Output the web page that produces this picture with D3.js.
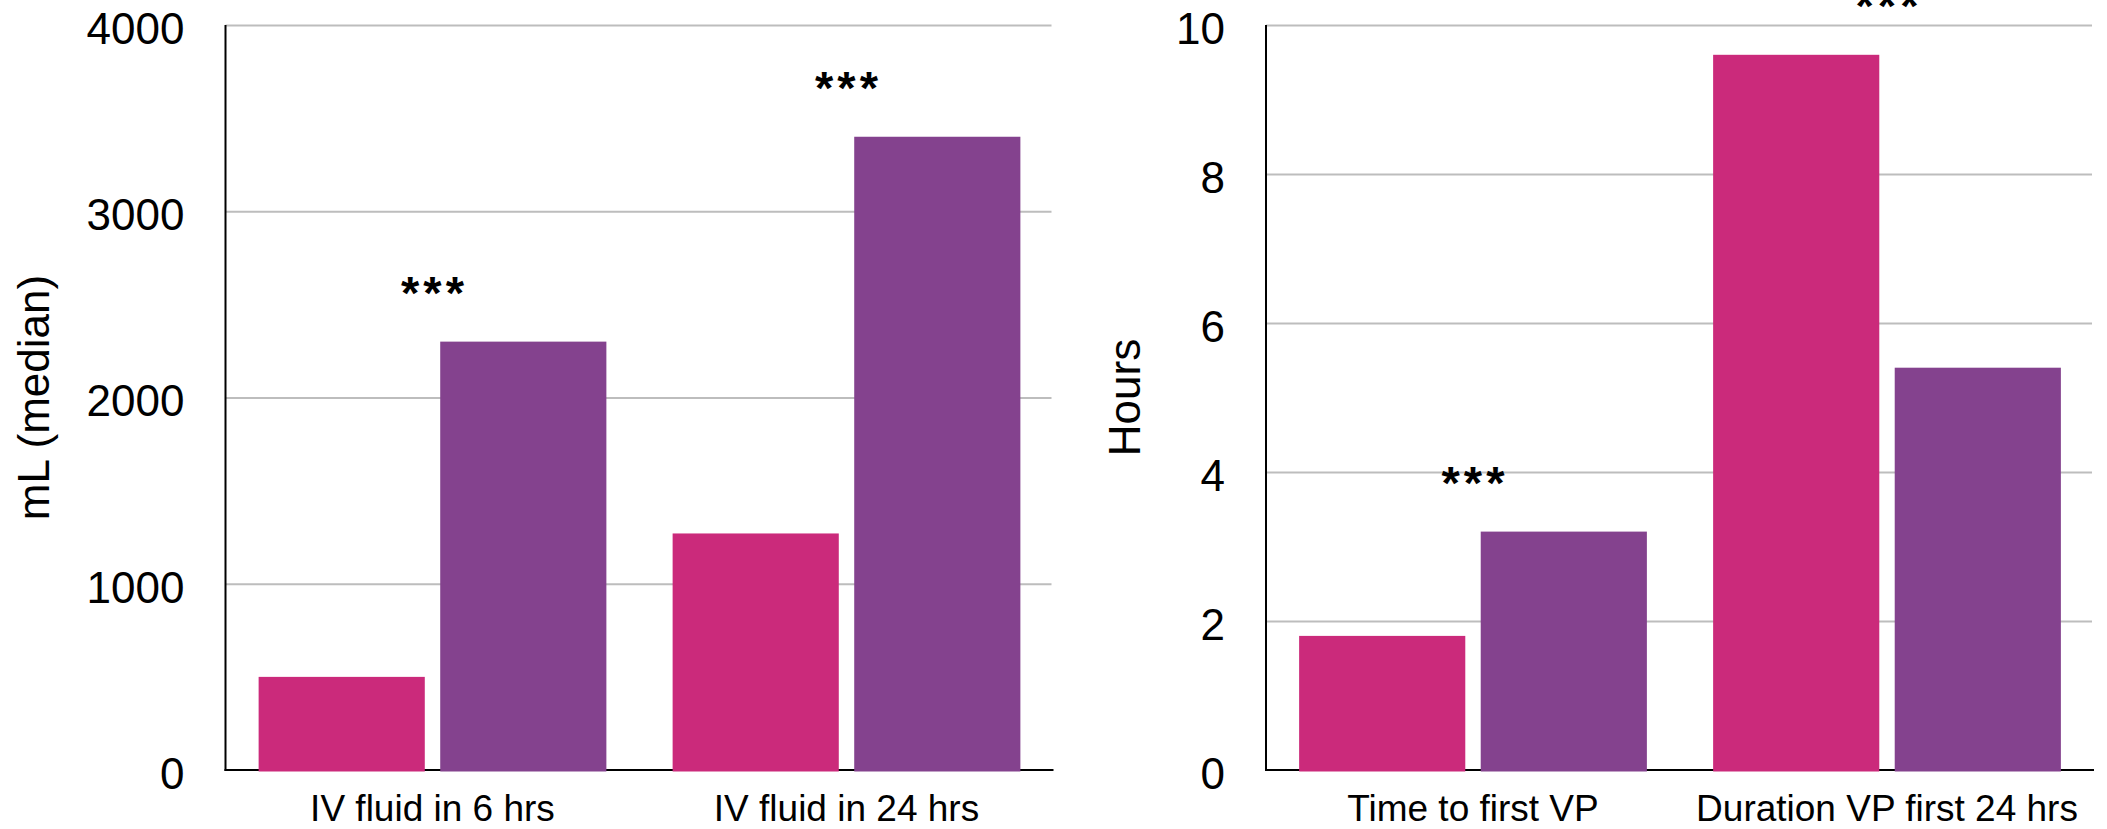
<!DOCTYPE html>
<html>
<head>
<meta charset="utf-8">
<script src="https://cdn.jsdelivr.net/npm/d3@7"></script>
<style>
  html, body { margin: 0; padding: 0; background: #ffffff; }
  svg { display: block; font-family: "Liberation Sans", Arial, Helvetica, sans-serif; }
</style>
</head>
<body>
<svg id="chart" width="2107" height="829"></svg>
<script>
// Left panel: IV fluid volume (mL, median)
const fluidCategories = ["IV fluid in 6 hrs", "IV fluid in 24 hrs"];
const fluidGroupA = [500, 1270];
const fluidGroupB = [2300, 3400];
const fluidTicks = [0, 1000, 2000, 3000, 4000];
const fluidMarks = ["***", "***"];

// Right panel: vasopressor timing (hours)
const vpCategories = ["Time to first VP", "Duration VP first 24 hrs"];
const vpGroupA = [1.8, 9.6];
const vpGroupB = [3.2, 5.4];
const vpTicks = [0, 2, 4, 6, 8, 10];
const vpMarks = ["***", "***"];

const groupKeys = ["a", "b"];
const groupColors = ["#cb2a7b", "#84428e"];

const svg = d3.select("#chart");
const plotTop = 25, plotBottom = 770, plotWidth = 828;

function drawPanel(opts) {
  const g = svg.append("g").attr("transform", `translate(${opts.left},0)`);

  const y = d3.scaleLinear().domain([0, d3.max(opts.ticks)]).range([plotBottom, plotTop]);
  const x0 = d3.scaleBand().domain(opts.categories).range([0, plotWidth])
    .paddingInner(0.16).paddingOuter(0.08);
  const x1 = d3.scaleBand().domain(groupKeys).range([0, x0.bandwidth()]).paddingInner(0.085);
  const color = d3.scaleOrdinal().domain(groupKeys).range(groupColors);

  // horizontal gridlines
  g.append("g")
    .call(d3.axisLeft(y).tickValues(opts.ticks.filter(t => t > 0)).tickSize(-(plotWidth - 2)).tickFormat(""))
    .call(a => a.select(".domain").remove())
    .call(a => a.selectAll("line").attr("stroke", "#bdbdbd").attr("stroke-width", 2));

  // tick labels
  g.append("g")
    .call(d3.axisLeft(y).tickValues(opts.ticks).tickSize(0).tickPadding(41).tickFormat(d3.format("d")))
    .call(a => a.select(".domain").remove())
    .call(a => a.selectAll("text")
      .attr("font-size", 44).attr("fill", "#000")
      .attr("font-family", "'Liberation Sans', Arial, Helvetica, sans-serif")
      .attr("dy", "0.415em"));

  // axis lines
  g.append("line").attr("x1", 0).attr("x2", 0).attr("y1", plotTop).attr("y2", plotBottom + 1)
    .attr("stroke", "#000").attr("stroke-width", 2);
  g.append("line").attr("x1", -1).attr("x2", plotWidth).attr("y1", plotBottom).attr("y2", plotBottom)
    .attr("stroke", "#000").attr("stroke-width", 2);

  // bars
  const rows = opts.categories.map((c, i) => ({
    category: c,
    values: [{ key: "a", value: opts.groupA[i] }, { key: "b", value: opts.groupB[i] }],
    mark: opts.marks[i]
  }));

  const groups = g.selectAll("g.cat").data(rows).join("g")
    .attr("class", "cat")
    .attr("transform", d => `translate(${x0(d.category)},0)`);

  groups.selectAll("rect").data(d => d.values).join("rect")
    .attr("x", d => x1(d.key))
    .attr("width", x1.bandwidth())
    .attr("y", d => y(d.value))
    .attr("height", d => y(0) - y(d.value) + 1.5)
    .attr("fill", d => color(d.key));

  // significance markers above the taller bar
  groups.append("text")
    .attr("x", x0.bandwidth() / 2 + 2)
    .attr("y", d => y(d3.max(d.values, v => v.value)) - 33)
    .attr("text-anchor", "middle")
    .attr("font-size", 47)
    .attr("font-weight", "bold")
    .attr("letter-spacing", 4)
    .attr("fill", "#000")
    .text(d => d.mark);

  // category labels
  groups.append("text")
    .attr("x", x0.bandwidth() / 2)
    .attr("y", 821)
    .attr("text-anchor", "middle")
    .attr("font-size", 37)
    .attr("fill", "#000")
    .text(d => d.category);

  // y-axis title
  svg.append("text")
    .attr("transform", `translate(${opts.titleX},${(plotTop + plotBottom) / 2}) rotate(-90)`)
    .attr("text-anchor", "middle")
    .attr("font-size", 44)
    .attr("fill", "#000")
    .text(opts.title);
}

drawPanel({
  left: 225.5, categories: fluidCategories, groupA: fluidGroupA, groupB: fluidGroupB,
  ticks: fluidTicks, marks: fluidMarks, title: "mL (median)", titleX: 49
});

drawPanel({
  left: 1266, categories: vpCategories, groupA: vpGroupA, groupB: vpGroupB,
  ticks: vpTicks, marks: vpMarks, title: "Hours", titleX: 1140
});
</script>
</body>
</html>
